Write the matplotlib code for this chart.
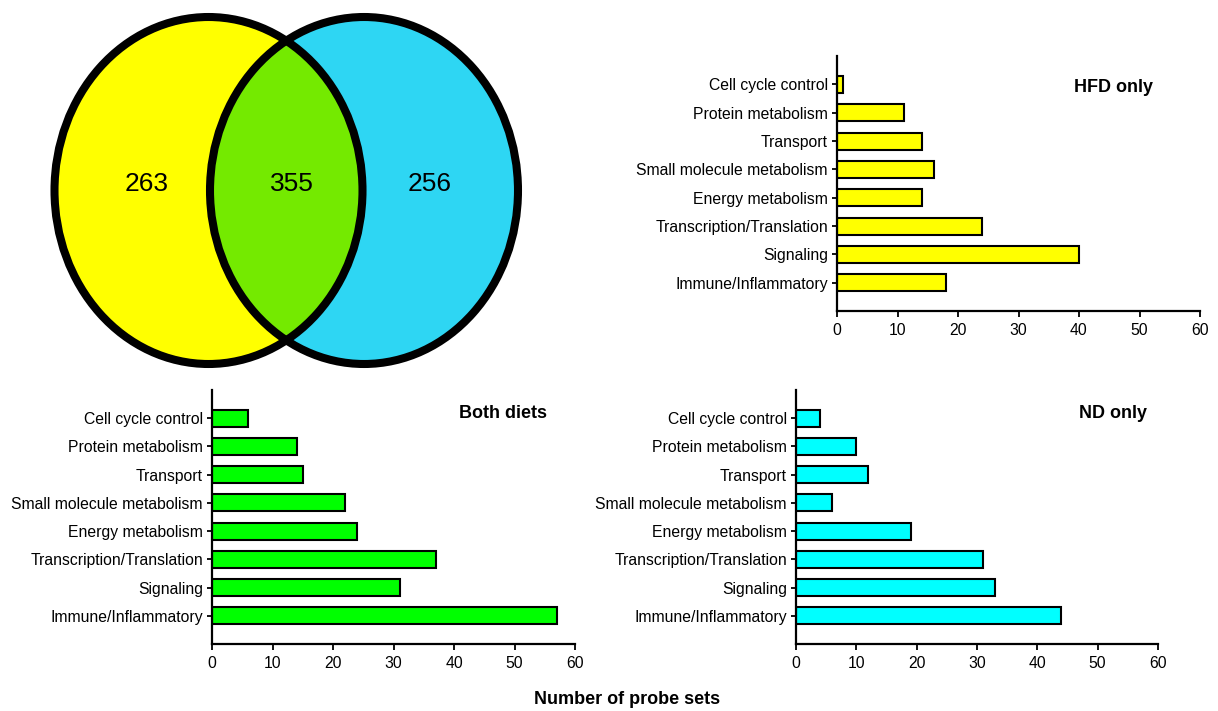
import matplotlib
matplotlib.use("Agg")
import matplotlib.pyplot as plt
from matplotlib.patches import Ellipse
import numpy as np

plt.rcParams['font.family'] = ['Liberation Sans', 'DejaVu Sans']

# Functional categories (top to bottom)
categories = [
    "Cell cycle control",
    "Protein metabolism",
    "Transport",
    "Small molecule metabolism",
    "Energy metabolism",
    "Transcription/Translation",
    "Signaling",
    "Immune/Inflammatory",
]

# Probe-set counts per category
hfd_only = [1, 11, 14, 16, 14, 24, 40, 18]
both_diets = [6, 14, 15, 22, 24, 37, 31, 57]
nd_only = [4, 10, 12, 6, 19, 31, 33, 44]

# Venn region counts
venn_counts = {"hfd": 263, "both": 355, "nd": 256}

x_ticks = [0, 10, 20, 30, 40, 50, 60]

W, H = 1218, 711
fig = plt.figure(figsize=(W / 100, H / 100), dpi=100)


def px_rect(left, top, right, bottom):
    return [left / W, 1 - bottom / H, (right - left) / W, (bottom - top) / H]


# ---- Venn diagram ----
axv = fig.add_axes([0, 0, 1, 1])
axv.set_xlim(0, W)
axv.set_ylim(H, 0)
axv.axis("off")

c_left = (208.5, 190.5)
c_right = (364.0, 190.5)
ew, eh = 308, 347
yellow_v = "#FFFF00"
cyan_v = "#2ED6F3"
green_v = "#74EA00"

e_left = Ellipse(c_left, ew, eh, facecolor=yellow_v, edgecolor="none", zorder=1)
e_right = Ellipse(c_right, ew, eh, facecolor=cyan_v, edgecolor="none", zorder=1)
axv.add_patch(e_left)
axv.add_patch(e_right)
e_mid = Ellipse(c_right, ew, eh, facecolor=green_v, edgecolor="none", zorder=2)
axv.add_patch(e_mid)
e_mid.set_clip_path(e_left)
for c in (c_left, c_right):
    axv.add_patch(Ellipse(c, ew, eh, facecolor="none", edgecolor="black",
                          linewidth=5.8, zorder=3))

axv.text(147, 184, str(venn_counts["hfd"]), fontsize=19, ha="center", va="center", zorder=4)
axv.text(292, 184, str(venn_counts["both"]), fontsize=19, ha="center", va="center", zorder=4)
axv.text(430, 184, str(venn_counts["nd"]), fontsize=19, ha="center", va="center", zorder=4)


# ---- Bar charts ----
def bar_panel(rect, values, color, title, title_xy):
    ax = fig.add_axes(px_rect(*rect))
    y = np.arange(len(categories))
    ax.barh(y, values, height=0.6, color=color, edgecolor="black", linewidth=1.5)
    ax.set_ylim(len(categories), -1)
    ax.set_xlim(0, 60)
    ax.set_xticks(x_ticks)
    ax.set_yticks(y)
    ax.set_yticklabels(categories, fontsize=11.3)
    ax.tick_params(axis="x", labelsize=11.3, direction="out", length=4.5, width=1.3, pad=4)
    ax.tick_params(axis="y", direction="out", length=3.5, width=1.3, pad=3)
    for s in ("top", "right"):
        ax.spines[s].set_visible(False)
    for s in ("left", "bottom"):
        ax.spines[s].set_linewidth(1.6)
    ax.patch.set_alpha(0)
    fig.text(title_xy[0] / W, 1 - title_xy[1] / H, title, fontsize=13,
             fontweight="bold", ha="center", va="center")
    return ax


bar_panel((837, 56, 1200, 311), hfd_only, "#FFFF00", "HFD only", (1113, 88))
bar_panel((212, 390, 575, 644), both_diets, "#00FF00", "Both diets", (503, 413))
bar_panel((796, 390, 1158, 644), nd_only, "#00FFFF", "ND only", (1113, 413))

fig.text(627 / W, 1 - 700 / H, "Number of probe sets", fontsize=13,
         fontweight="bold", ha="center", va="center")

fig.savefig("out.png", dpi=100)
